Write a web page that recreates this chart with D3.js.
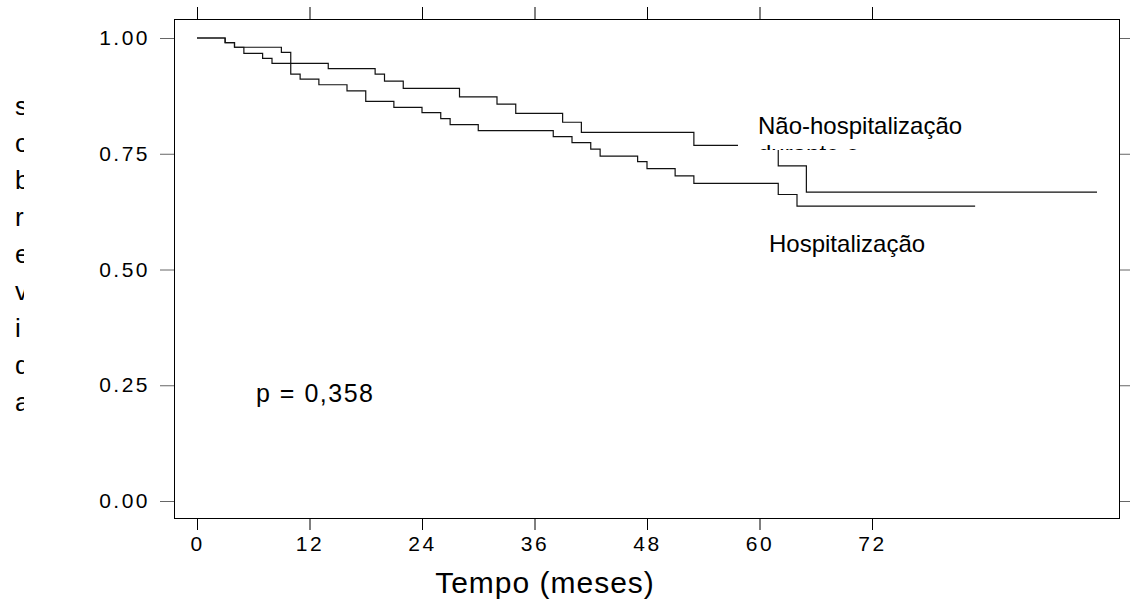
<!DOCTYPE html>
<html>
<head>
<meta charset="utf-8">
<script src="https://cdn.jsdelivr.net/npm/d3@7"></script>
<style>
  body { margin: 0; background: #fff; }
  text { font-family: "Liberation Sans", Arial, sans-serif; fill: #000; }
</style>
</head>
<body>
<div class="canvas"></div>
<script>
// survival data (months, proportion)
const naoHospTimes = [0, 3, 4, 5, 7, 8, 14, 19, 20, 22, 28, 32, 34, 39, 41, 53, 62, 65, 96];
const naoHospSurv = [1.0, 0.99, 0.98, 0.967, 0.956, 0.945, 0.934, 0.922, 0.907, 0.891, 0.873, 0.857, 0.837, 0.818, 0.796, 0.768, 0.724, 0.667, 0.667];

const hospTimes = [0, 3, 4, 9, 10, 11, 13, 16, 18, 21, 24, 26, 27, 30, 38, 40, 42, 43, 47, 48, 51, 53, 62, 64, 83];
const hospSurv = [1.0, 0.99, 0.98, 0.969, 0.922, 0.911, 0.899, 0.886, 0.863, 0.850, 0.839, 0.826, 0.813, 0.800, 0.787, 0.774, 0.760, 0.745, 0.733, 0.718, 0.702, 0.686, 0.662, 0.637, 0.637];

const xTicks = [0, 12, 24, 36, 48, 60, 72];
const yTicks = [0, 0.25, 0.5, 0.75, 1];
const yLabelLetters = ['s', 'o', 'b', 'r', 'e', 'v', 'i', 'd', 'a'];

// frame of the plot box
const box = { left: 174, top: 19, right: 1119, bottom: 518 };

const svg = d3.select('.canvas')
    .append('svg')
    .attr('width', 1130)
    .attr('height', 605);

// scales: 0..72 months maps to 197..872 px, survival 0..1 maps to 501..38
const x = d3.scaleLinear().domain([0, 72]).range([197, 872]);
const y = d3.scaleLinear().domain([0, 1]).range([501, 38]);

// axes
const xTop = svg.append('g')
    .attr('transform', `translate(0,${box.top})`)
    .call(d3.axisTop(x).tickValues(xTicks).tickSize(12).tickFormat(''));
const xBottom = svg.append('g')
    .attr('transform', `translate(0,${box.bottom})`)
    .call(d3.axisBottom(x).tickValues(xTicks).tickSize(12).tickPadding(6));
const yLeft = svg.append('g')
    .attr('transform', `translate(${box.left},0)`)
    .call(d3.axisLeft(y).tickValues(yTicks).tickSize(14).tickPadding(10).tickFormat(d3.format('.2f')));
const yRight = svg.append('g')
    .attr('transform', `translate(${box.right},0)`)
    .call(d3.axisRight(y).tickValues(yTicks).tickSize(11).tickFormat(''));

svg.selectAll('.domain').remove();
svg.selectAll('.tick text')
    .style('font-size', '21px')
    .style('letter-spacing', '2.5px')
    .attr('fill', '#000');
xTop.selectAll('.tick line').attr('stroke', '#000');
yLeft.selectAll('.tick line').attr('stroke', '#666');
yRight.selectAll('.tick line').attr('stroke', '#666');

svg.append('rect')
    .attr('x', box.left + 0.5)
    .attr('y', box.top + 0.5)
    .attr('width', box.right - box.left)
    .attr('height', box.bottom - box.top)
    .attr('fill', 'none')
    .attr('stroke', '#000');

// step curves
const line = d3.line()
    .x(d => x(d[0]))
    .y(d => y(d[1]))
    .curve(d3.curveStepAfter);

const curves = [
    d3.zip(naoHospTimes, naoHospSurv),
    d3.zip(hospTimes, hospSurv)
];
svg.selectAll('path.km')
    .data(curves)
    .enter()
    .append('path')
    .attr('class', 'km')
    .attr('d', line)
    .attr('fill', 'none')
    .attr('stroke', '#111')
    .attr('stroke-width', 1.2);

// label box with white background (covers part of the upper curve)
svg.append('clipPath').attr('id', 'lblclip')
    .append('rect').attr('x', 738).attr('y', 100).attr('width', 235).attr('height', 50);
const lbl = svg.append('g').attr('clip-path', 'url(#lblclip)');
lbl.append('rect')
    .attr('x', 738).attr('y', 100).attr('width', 235).attr('height', 50)
    .attr('fill', '#fff');
lbl.append('text')
    .attr('x', 758).attr('y', 134)
    .style('font-size', '24px')
    .text('Não-hospitalização');
lbl.append('text')
    .attr('x', 758).attr('y', 162)
    .style('font-size', '24px')
    .text('durante o');

svg.append('text')
    .attr('x', 769).attr('y', 252)
    .style('font-size', '24px')
    .text('Hospitalização');

svg.append('text')
    .attr('x', 256).attr('y', 402)
    .style('font-size', '25px')
    .style('letter-spacing', '1.5px')
    .text('p = 0,358');

// x axis title
svg.append('text')
    .attr('x', 545).attr('y', 593)
    .attr('text-anchor', 'middle')
    .style('font-size', '30px')
    .style('letter-spacing', '1px')
    .text('Tempo (meses)');

// y axis title, one letter per line, cut on the right
svg.append('clipPath').attr('id', 'ylabclip')
    .append('rect').attr('x', 0).attr('y', 0).attr('width', 24).attr('height', 605);
svg.append('g')
    .attr('clip-path', 'url(#ylabclip)')
    .selectAll('text')
    .data(yLabelLetters)
    .enter()
    .append('text')
    .attr('x', 15)
    .attr('y', (d, i) => 115 + i * 37)
    .style('font-size', '26px')
    .text(d => d);
</script>
</body>
</html>
